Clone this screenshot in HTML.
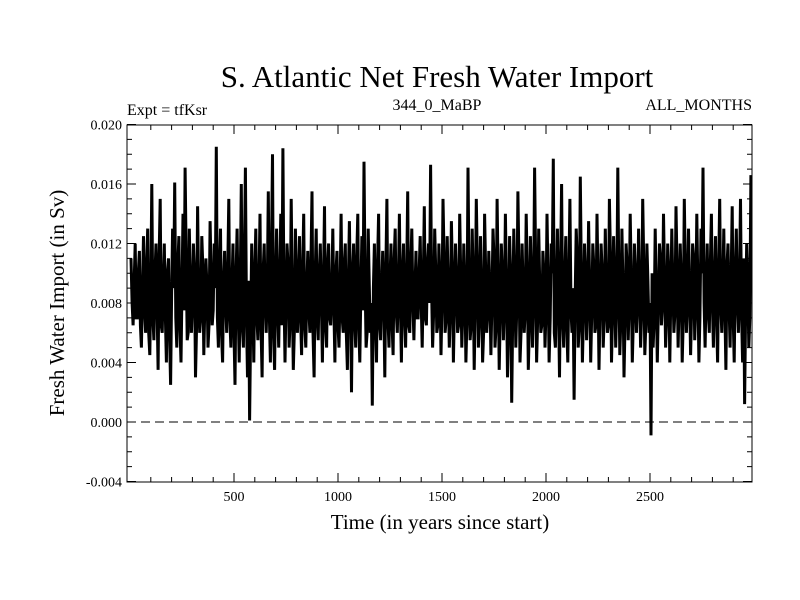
<!DOCTYPE html>
<html><head><meta charset="utf-8"><style>
body{margin:0;background:#fff;}
svg{display:block;font-family:"Liberation Serif",serif;}
</style></head><body>
<svg id="chart" width="800" height="600" viewBox="0 0 800 600">
<rect width="800" height="600" fill="#fff"/>
<text x="437" y="87" font-size="31" text-anchor="middle">S. Atlantic Net Fresh Water Import</text>
<text x="127" y="115" font-size="16">Expt = tfKsr</text>
<text x="437" y="110" font-size="16" text-anchor="middle">344_0_MaBP</text>
<text x="752" y="110" font-size="16" text-anchor="end">ALL_MONTHS</text>
<text transform="translate(64,303) rotate(-90)" font-size="21" text-anchor="middle">Fresh Water Import (in Sv)</text>
<text x="440" y="529" font-size="21" text-anchor="middle">Time (in years since start)</text>
<g id="plot"></g>
</svg>
<script>
const yearStep = 10;
const yearStart = 5;
const seriesValues = [
11,6.5,12,7,11.5,5,12.5,6,13,4.5,16,5.5,12,3.5,15,6,12,4,11,2.5,
13,16.1,5,12.5,4,14,17.1,5.5,13,6,12,3,14.5,6,12.5,4.5,11,5,13.5,6.5,
12,18.5,5,13,4,11.5,6,15,5,12,2.5,13,4,16,5,17.1,3,0.1,12,4,
13,5.5,14,3,12,6,15.5,4,18,3.5,13,5,14,18.4,4,12,5,15,3.5,13,
6,12.5,4.5,14,5,11.5,6,15.5,3,13,5.5,12,4,14.5,5,12,6.5,13,4,11.5,
5,14,6,12,3.5,13.5,2,12,5,14,4,12.5,17.5,5,13,6,1.1,12,4,14,
5.5,11.5,3,15,5,12,4.5,13,6,14,4,12,5,15.5,6,13,5.5,11.5,7,12.5,
5,14.5,6.5,12,17.3,5,13,6,12,4.5,15,6,12.5,5,13.5,4,12,6,14,5,
12,4,17.1,5.5,13,3.5,15,5,12.5,4,14,6,11.5,4.5,13,5,15,3.5,12,5.5,
14,3,12.5,1.3,13,5,15.5,4,12,6,14,3.5,12.5,5,17.1,4,13,6,11.5,5,
14,4,12,17.7,5,13,3,16,5,12.5,4,15,6,1.5,13,5,16.5,4,12,5.5,
13.5,4,12,6,14,3.5,12,5,13,6,15,4,12.5,5,17.1,4.5,13,3,12,5.5,
14,4,12,6,13,5,15,4.5,12,6,-0.9,5,13,4,12,6.5,14,5,12,4,
13,6,14.5,5,12,4,15,6,13,4.5,12,5.5,14,4,13,17.1,5,12,6,14,
5,12.5,4,15,6,13,3.5,12,5,14.5,4,13,6,15,4,1.2,12,5,16.6,13
];
const midValues = [
8,9.5,7,10,6.5,9,7.5,10.5,6,9,7,10,8,11,6.5,9.5,7,10,6,8.5,
9,7,10.5,6.5,9,7.5,11,6,9.5,8,10,6.5,9,7,10.5,8,9,6.5,10,7.5,
9,7,10,6,9.5,8,10.5,7,9,6,10,7.5,9,6.5,11,7,9.5,6,8.5,10,
7,9.5,6.5,10,8,9,7,11,6,9.5,7.5,10,6.5,9,8,10.5,7,9,6,10,
8.5,7,10,6.5,9,7.5,11,6,9.5,7,10,8,9,6.5,10.5,7,9,8,10,6.5,
9,7,10.5,6,9.5,8,10,7,11,6.5,9,7.5,10,6,9.5,8,9,7,10.5,6.5,
9,8,10,7,9.5,6.5,11,7.5,9,8,10,7,9.5,6.5,10.5,8,9,7,10,8,
9.5,7,10.5,8,9,7.5,10,6.5,9.5,8,11,7,9,7.5,10,8,9.5,6.5,10,7.5,
9,7,10,6.5,9.5,8,10.5,7,9,6,10,7.5,9,8,11,6.5,9.5,7,10,8,
9,6.5,10,7,9.5,8,10.5,6,9,7.5,10,6.5,9.5,8,11,7,9,6.5,10,7.5,
9.5,7,10,6,9,8,10.5,7,9.5,6.5,10,7.5,9,8,11,6.5,9.5,7,10,8,
9,7.5,10.5,6.5,9.5,8,10,7,9,6.5,11,7.5,9.5,8,10,7,9,6.5,10.5,8,
9.5,7,10,8,9,7.5,10.5,6.5,9.5,8,10,7,9,7.5,11,8,9.5,7,10,8.5,
9,7.5,10.5,8,9.5,7,10,8,9,7.5,11,8,9.5,7,10,8,9,7.5,10.5,8,
9.5,7,10,8,9,7.5,10.5,8,9.5,7,10,8,9,7.5,11,8,9.5,7,10,8.5
];
const yTickValues = [-0.004,0.000,0.004,0.008,0.012,0.016,0.020];
const yTickLabels = ["-0.004","0.000","0.004","0.008","0.012","0.016","0.020"];
const xTickValues = [500,1000,1500,2000,2500];
const xTickLabels = ["500","1000","1500","2000","2500"];

const L=127,R=752,T=125,B=482;
const xs = yr => 130 + yr*0.208;
const ys = v => 422 - v/0.004*59.5;
const NS="http://www.w3.org/2000/svg";
const g=document.getElementById('plot');
function mk(tag,attrs){const e=document.createElementNS(NS,tag);for(const k in attrs)e.setAttribute(k,attrs[k]);g.appendChild(e);return e;}

const clip=document.createElementNS(NS,'clipPath');clip.setAttribute('id','pc');
const cr=document.createElementNS(NS,'rect');cr.setAttribute('x',L);cr.setAttribute('y',T);cr.setAttribute('width',R-L);cr.setAttribute('height',B-T);
clip.appendChild(cr);g.appendChild(clip);

const zl=mk('line',{x1:L,x2:R,y1:ys(0),y2:ys(0),stroke:'#000','stroke-width':1,'stroke-dasharray':'9,5'});



const ptsArr=[];
seriesValues.forEach((v,i)=>{
  const yr=yearStart+i*yearStep;
  ptsArr.push(xs(yr).toFixed(1)+','+ys(v*0.001).toFixed(1));
  if(i<midValues.length && i<seriesValues.length-1) ptsArr.push(xs(yr+yearStep/2).toFixed(1)+','+ys(midValues[i]*0.001).toFixed(1));
});
const line=mk('polyline',{points:ptsArr.join(' '),fill:'none',stroke:'#000','stroke-width':3,'stroke-linejoin':'miter','stroke-miterlimit':2,'clip-path':'url(#pc)'});



const frame=mk('rect',{x:L,y:T,width:R-L,height:B-T,fill:'none',stroke:'#000','stroke-width':1});



for(let k=-4;k<=20;k++){
  const y=ys(k*0.001), len=(k%4===0)?9:5;
  mk('line',{x1:L,x2:L+len,y1:y,y2:y,stroke:'#000'});
  mk('line',{x1:R,x2:R-len,y1:y,y2:y,stroke:'#000'});
}
yTickValues.forEach((v,i)=>{
  const t=mk('text',{x:L-5,y:ys(v)+5,'font-size':14,'text-anchor':'end'});
  t.textContent=yTickLabels[i];
  
  
});
for(let yr=100;yr<3000;yr+=100){
  const x=xs(yr), len=(yr%500===0)?9:5;
  mk('line',{x1:x,x2:x,y1:B,y2:B-len,stroke:'#000'});
  mk('line',{x1:x,x2:x,y1:T,y2:T+len,stroke:'#000'});
}
xTickValues.forEach((v,i)=>{
  const t=mk('text',{x:xs(v),y:B+19,'font-size':14,'text-anchor':'middle'});
  t.textContent=xTickLabels[i];
  
  
});
</script>
</body></html>
